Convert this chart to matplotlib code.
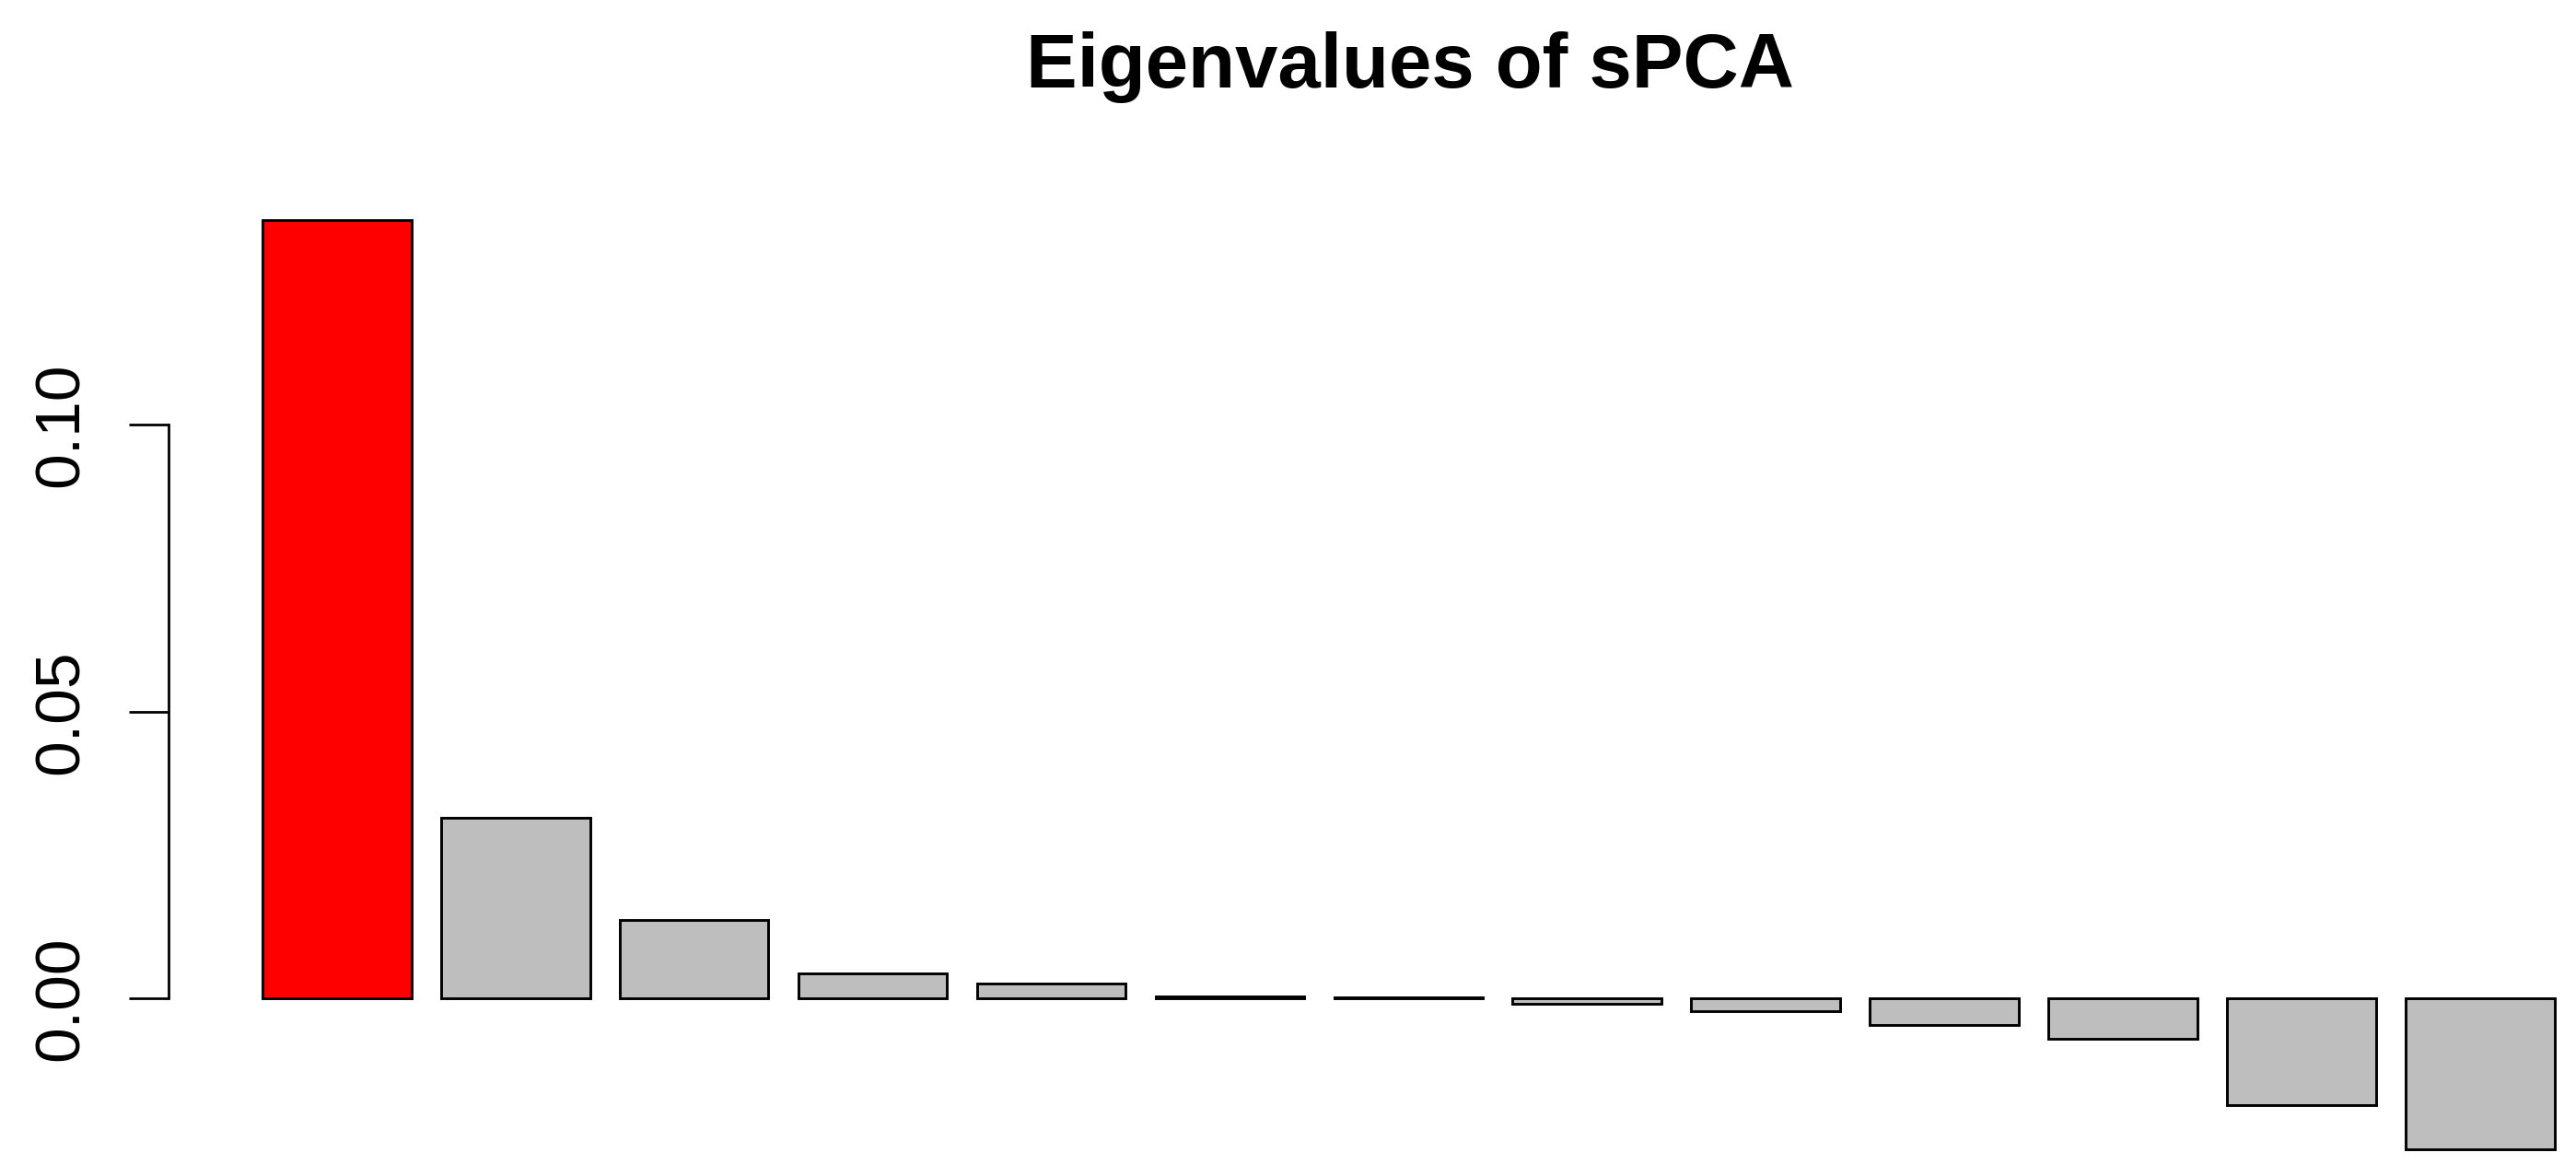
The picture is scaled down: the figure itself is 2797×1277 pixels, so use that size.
import numpy as np
import matplotlib.pyplot as plt

plt.rcParams['font.family'] = ['Liberation Sans', 'DejaVu Sans']

# eigenvalues (13 components)
eigenvalues = [0.1357, 0.0315, 0.0137, 0.0043, 0.0026, 0.0003, 0.0002,
               -0.0010, -0.0022, -0.0046, -0.0070, -0.0186, -0.0263]
bar_colors = ['#FF0000'] + ['#BEBEBE'] * 12
yticks = [0.00, 0.05, 0.10]
yticklabels = ['0.00', '0.05', '0.10']

W, H = 2797, 1277
fig = plt.figure(figsize=(W / 100, H / 100), dpi=100)

# R barplot geometry: width 1, space 0.2
x = 0.7 + 1.2 * np.arange(len(eigenvalues))

ax_left = 183 / W
ax_bottom = 0.0
ax_top = 199 / H
ax = fig.add_axes([ax_left, ax_bottom, 1 - ax_left, 1 - ax_top - ax_bottom])

ax.bar(x, eigenvalues, width=1.0, color=bar_colors, edgecolor='black', linewidth=2.1)

# x limits so bar 1 left edge lands at px 285 and scale 161.6 px/unit
px_per_unit = 161.6
ax.set_xlim(0.2 - (285 - 183) / px_per_unit, 0.2 + (W - 285) / px_per_unit)
ax.set_ylim(-(H - 1084) / 6226, (1084 - 199) / 6226)

for s in ['top', 'right', 'bottom']:
    ax.spines[s].set_visible(False)
ax.spines['left'].set_bounds(0, 0.1)
ax.spines['left'].set_linewidth(2.0)
ax.set_xticks([])
ax.set_yticks(yticks)
ax.set_yticklabels(yticklabels, rotation=90, va='center')
ax.tick_params(axis='y', length=31, width=2.0, pad=30, labelsize=50)

fig.text(1531 / W, 1 - 95 / H, 'Eigenvalues of sPCA', ha='center', va='baseline',
         fontsize=60, fontweight='bold')

plt.savefig('out.png', dpi=100)
